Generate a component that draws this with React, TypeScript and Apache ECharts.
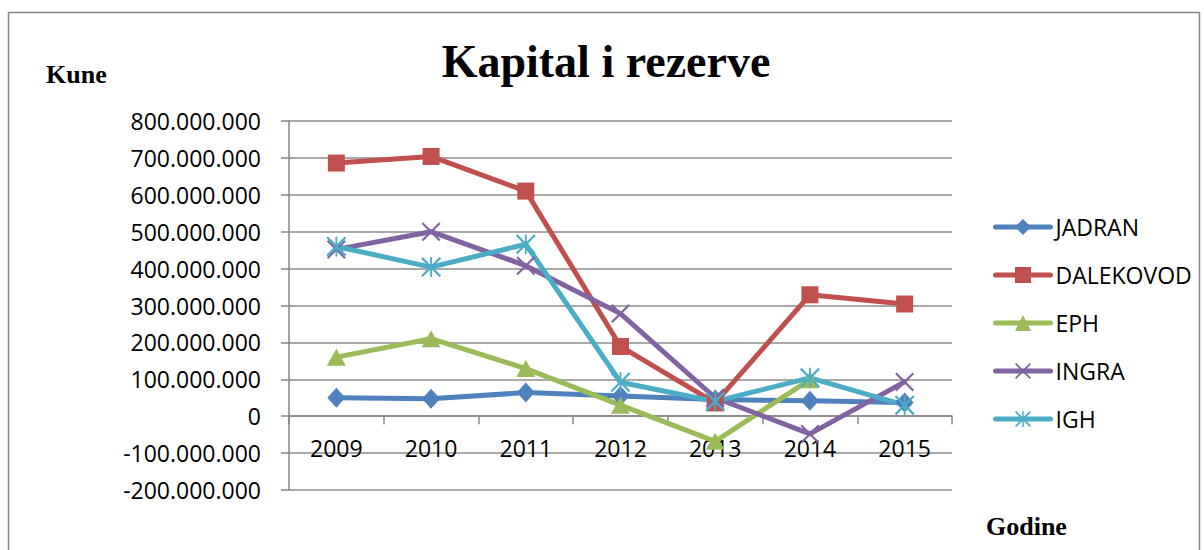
import React, { useEffect, useRef } from "react";
import * as echarts from "echarts";

const categories = ["2009", "2010", "2011", "2012", "2013", "2014", "2015"];
const seriesNames = ["JADRAN", "DALEKOVOD", "EPH", "INGRA", "IGH"];
const jadran = [50000000, 47000000, 64000000, 55000000, 45000000, 42000000, 37000000];
const dalekovod = [686000000, 704000000, 610000000, 189000000, 36000000, 329000000, 304000000];
const eph = [160000000, 210000000, 129000000, 30000000, -68000000, 99000000, null];
const ingra = [452000000, 500000000, 408000000, 278000000, 50000000, -48000000, 93000000];
const igh = [460000000, 404000000, 466000000, 92000000, 40000000, 104000000, 30000000];
const colors = ["#4F81BD", "#C0504D", "#9BBB59", "#8064A2", "#4BACC6"];

const X_PATH =
  "path://M0,1.6L1.6,0L10,8.4L18.4,0L20,1.6L11.6,10L20,18.4L18.4,20L10,11.6L1.6,20L0,18.4L8.4,10Z";
const STAR_PATH =
  "path://M0,1.6L1.6,0L10,8.4L18.4,0L20,1.6L11.6,10L20,18.4L18.4,20L10,11.6L1.6,20L0,18.4L8.4,10Z M9.1,0L10.9,0L10.9,20L9.1,20Z";

const fmt = (v: number) => {
  const s = Math.abs(v)
    .toString()
    .replace(/\B(?=(\d{3})+(?!\d))/g, ".");
  return (v < 0 ? "-" : "") + s;
};

export default function App() {
  const ref = useRef<HTMLDivElement>(null);
  useEffect(() => {
    if (!ref.current) return;
    const chart = echarts.init(ref.current, undefined, { renderer: "svg" });
    const data = [jadran, dalekovod, eph, ingra, igh];
    const symbols = ["diamond", "rect", "triangle", X_PATH, STAR_PATH];
    const sizes: any[] = [[18, 20], 17, [19, 17], 19, 20];
    const font = "'Open Sans', sans-serif";
    const gridTop = 121;
    const gridBottom = 60;
    const plotH = 550 - gridTop - gridBottom;
    const yMin = -200000000;
    const yMax = 800000000;
    const zeroOffset = (plotH * (0 - yMin)) / (yMax - yMin);
    chart.setOption({
      animation: false,
      color: colors,
      textStyle: { fontFamily: font },
      graphic: [
        {
          type: "rect",
          shape: { x: 8.5, y: 12.5, width: 1191, height: 600 },
          style: { fill: "none", stroke: "#868686", lineWidth: 1.5 },
          silent: true,
        },
        {
          type: "text",
          x: 606,
          y: 61,
          style: {
            text: "Kapital i rezerve",
            font: "bold 46px 'Liberation Serif', 'Times New Roman', serif",
            fill: "#000",
            align: "center",
            verticalAlign: "middle",
          },
        },
        {
          type: "text",
          x: 46,
          y: 74,
          style: {
            text: "Kune",
            font: "bold 26px 'Liberation Serif', 'Times New Roman', serif",
            fill: "#000",
            align: "left",
            verticalAlign: "middle",
          },
        },
        {
          type: "text",
          x: 986,
          y: 526,
          style: {
            text: "Godine",
            font: "bold 26px 'Liberation Serif', 'Times New Roman', serif",
            fill: "#000",
            align: "left",
            verticalAlign: "middle",
          },
        },
      ],
      legend: {
        orient: "vertical",
        left: 993,
        top: 215,
        padding: 0,
        itemWidth: 55,
        itemHeight: 20,
        itemGap: 24,
        data: seriesNames,
        lineStyle: { width: 5 },
        textStyle: { fontSize: 23, fontFamily: font, color: "#000", lineHeight: 24 },
      },
      grid: { left: 289, right: 252, top: gridTop, bottom: gridBottom, containLabel: false },
      xAxis: {
        type: "category",
        data: categories,
        boundaryGap: true,
        offset: -zeroOffset,
        axisLine: { onZero: false, lineStyle: { color: "#868686", width: 1.5 } },
        axisTick: { show: true, length: 8, interval: 0, lineStyle: { color: "#868686", width: 1.5 } },
        axisLabel: { fontSize: 23, color: "#000", margin: 20, lineHeight: 24, interval: 0, fontFamily: font },
      },
      yAxis: {
        type: "value",
        min: yMin,
        max: yMax,
        interval: 100000000,
        axisLine: { show: true, lineStyle: { color: "#868686", width: 1.5 } },
        axisTick: { show: true, length: 8, lineStyle: { color: "#868686", width: 1.5 } },
        splitLine: { show: true, lineStyle: { color: "#8c8c8c", width: 1.5 } },
        axisLabel: { fontSize: 23, color: "#000", margin: 28, formatter: fmt, fontFamily: font },
      },
      series: seriesNames.map((name, i) => ({
        name,
        type: "line",
        data: data[i],
        symbol: symbols[i],
        symbolSize: sizes[i],
        showAllSymbol: true,
        lineStyle: { width: 5, color: colors[i], cap: "round", join: "round" },
        itemStyle: { color: colors[i], borderWidth: 0 },
        emphasis: { disabled: true },
      })),
    });
    return () => chart.dispose();
  }, []);
  return (
    <div
      ref={ref}
      style={{ position: "fixed", left: 0, top: 0, width: 1204, height: 550, background: "#fff" }}
    />
  );
}
